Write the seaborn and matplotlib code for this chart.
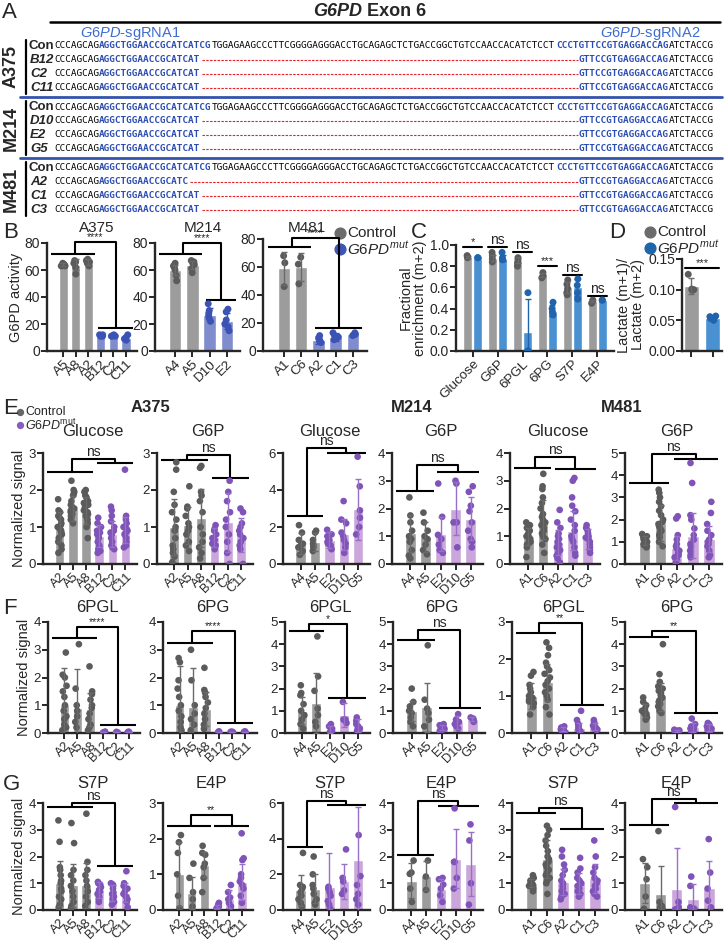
import numpy as np
import pandas as pd
import seaborn as sns
import matplotlib.pyplot as plt

# ---------------- data ----------------
# panel A: sequences
seq_con = ["CCCAGCAG", "AGGCTGGAACCGCATCATCG",
           "TGGAGAAGCCCTTCGGGGAGGGACCTGCAGAGCTCTGACCGGCTGTCCAACCACATCTCCT",
           "CCCTGTTCCGTGAGGACCAG", "ATCTACCG"]
cell_lines = ["A375", "M214", "M481"]
mut_clones = [["B12", "C2", "C11"], ["D10", "E2", "G5"], ["A2", "C1", "C3"]]
mut_guide1 = [["AGGCTGGAACCGCATCAT"] * 3, ["AGGCTGGAACCGCATCAT"] * 3,
              ["AGGCTGGAACCGCATC", "AGGCTGGAACCGCATCAT", "AGGCTGGAACCGCATCAT"]]
mut_guide2 = "GTTCCGTGAGGACCAG"

# panel B: G6PD activity
b_a375_clones = ["A5", "A8", "A2", "B12", "C2", "C11"]
b_a375_means = [64, 64, 66, 11, 11, 10]
b_a375_sds = [1, 4, 2, 1, 0.5, 2]
b_a375_pts = [[63, 64, 65, 64, 63], [57, 62, 65, 67, 66], [63, 66, 68, 67, 65],
              [11, 12, 11, 12], [11, 12, 11, 11], [8, 12, 9, 10]]
b_m214_clones = ["A4", "A5", "D10", "E2"]
b_m214_means = [60, 64, 27, 22]
b_m214_sds = [4, 3, 5, 6]
b_m214_pts = [[52, 56, 60, 63, 65, 62], [58, 61, 64, 66, 67, 65],
              [35, 30, 26, 22, 28, 24], [31, 29, 15, 20, 18, 23]]
b_m481_clones = ["A1", "C6", "A2", "C1", "C3"]
b_m481_means = [59, 60, 8, 10, 12]
b_m481_sds = [12, 10, 3, 3, 1]
b_m481_pts = [[68, 63, 46], [67, 62, 48], [11, 9, 8, 6, 7], [13, 11, 9, 8, 10], [12, 13, 11, 12]]

# panel C: fractional enrichment
c_metab = ["Glucose", "G6P", "6PGL", "6PG", "S7P", "E4P"]
c_ctrl_means = [0.89, 0.88, 0.86, 0.72, 0.60, 0.47]
c_mut_means = [0.88, 0.88, 0.18, 0.38, 0.60, 0.48]
c_ctrl_sds = [0.01, 0.03, 0.03, 0.02, 0.05, 0.01]
c_mut_sds = [0.005, 0.03, 0.31, 0.05, 0.08, 0.005]
c_ctrl_pts = [[0.90, 0.89, 0.88], [0.93, 0.90, 0.87, 0.84], [0.88, 0.86, 0.83, 0.80],
              [0.74, 0.71, 0.69], [0.67, 0.63, 0.59, 0.55, 0.53], [0.48, 0.47, 0.45]]
c_mut_pts = [[0.88, 0.88], [0.93, 0.88, 0.86], [0.55, 0.0, 0.0],
             [0.46, 0.40, 0.37, 0.34], [0.68, 0.62, 0.55, 0.49], [0.48, 0.48]]
c_sig = ["*", "ns", "ns", "***", "ns", "ns"]
c_sig_y = [0.98, 0.98, 0.93, 0.80, 0.72, 0.52]

# panel D: lactate ratio
d_groups = ["Control", "G6PDmut"]
d_means = [0.106, 0.054]
d_sds = [0.013, 0.003]
d_pts = [[0.125, 0.101, 0.099, 0.100], [0.057, 0.056, 0.053, 0.050]]

# panels E-G: normalized signal
a375_clones = ["A2", "A5", "A8", "B12", "C2", "C11"]
m214_clones = ["A4", "A5", "E2", "D10", "G5"]
m481_clones = ["A1", "C6", "A2", "C1", "C3"]

e_glc_a375_means = [1.0, 1.5, 1.45, 0.75, 0.82, 0.92]
e_glc_a375_sds = [0.4, 0.35, 0.37, 0.3, 0.35, 0.35]
e_glc_a375_pts = [[1.75, 1.45, 1.4, 1.3, 1.2, 1.1, 1.0, 0.95, 0.9, 0.8, 0.7, 0.6, 0.5, 0.4, 0.3, 1.25, 1.05, 0.85],
                  [2.25, 2.0, 1.95, 1.85, 1.7, 1.6, 1.55, 1.5, 1.45, 1.4, 1.35, 1.3, 1.25, 1.2, 1.1, 1.9],
                  [2.0, 1.95, 1.85, 1.8, 1.7, 1.6, 1.5, 1.45, 1.4, 1.35, 1.3, 1.2, 1.1, 1.0, 0.7, 1.65, 1.55],
                  [1.25, 1.1, 1.0, 0.9, 0.85, 0.8, 0.75, 0.7, 0.6, 0.5, 0.45, 0.4, 0.35, 0.3],
                  [1.55, 1.45, 1.3, 1.15, 1.0, 0.9, 0.85, 0.8, 0.7, 0.6, 0.5, 0.45, 0.4],
                  [2.55, 1.3, 1.2, 1.1, 1.0, 0.95, 0.9, 0.85, 0.8, 0.7, 0.6, 0.5, 0.45]]
e_g6p_a375_means = [1.0, 1.05, 1.25, 0.72, 1.13, 0.78]
e_g6p_a375_sds = [0.75, 0.5, 0.78, 0.25, 0.8, 0.45]
e_g6p_a375_pts = [[2.75, 2.55, 1.95, 1.6, 1.4, 1.2, 1.0, 0.9, 0.7, 0.5, 0.4, 0.3, 0.2, 0.05],
                  [2.1, 1.55, 1.5, 1.3, 1.1, 1.0, 0.9, 0.8, 0.6, 0.5, 0.35],
                  [2.65, 2.6, 1.95, 1.85, 1.7, 1.4, 1.0, 0.8, 0.6, 0.45, 0.3, 0.15],
                  [1.05, 0.95, 0.9, 0.8, 0.7, 0.65, 0.6, 0.55, 0.5, 0.4],
                  [2.25, 1.95, 1.7, 1.4, 1.2, 1.0, 0.8, 0.6, 0.3, 0.0],
                  [1.5, 1.4, 1.1, 1.0, 0.9, 0.8, 0.7, 0.6, 0.5, 0.4, 0.0]]
e_glc_m214_means = [1.1, 1.2, 1.3, 1.6, 2.95]
e_glc_m214_sds = [0.55, 0.5, 0.45, 0.85, 1.65]
e_glc_m214_pts = [[2.1, 1.7, 1.3, 1.1, 1.0, 0.9, 0.7, 0.5], [1.8, 1.7, 1.3, 1.1, 1.0, 0.9, 0.7],
                  [1.85, 1.6, 1.5, 1.3, 1.2, 1.1, 1.0, 0.8], [3.4, 2.4, 2.2, 1.7, 1.5, 1.3, 1.1, 0.9, 0.6],
                  [5.8, 4.2, 2.9, 2.5, 2.0, 1.6]]
e_g6p_m214_means = [1.1, 0.98, 1.08, 2.0, 1.63]
e_g6p_m214_sds = [0.65, 0.55, 0.6, 0.95, 0.78]
e_g6p_m214_pts = [[2.4, 1.75, 1.5, 1.2, 1.0, 0.9, 0.8, 0.5, 0.3, 0.2], [1.85, 1.5, 1.2, 1.0, 0.9, 0.7, 0.5, 0.35],
                  [2.9, 1.7, 1.05, 0.9, 0.7, 0.5, 0.4], [3.0, 2.9, 1.5, 1.5, 0.6],
                  [2.8, 2.6, 2.1, 1.9, 1.5, 1.2, 0.9, 0.8, 0.6]]
e_glc_m481_means = [1.0, 1.6, 0.78, 1.2, 0.9]
e_glc_m481_sds = [0.3, 0.7, 0.45, 0.7, 0.35]
e_glc_m481_pts = [[1.5, 1.4, 1.3, 1.2, 1.1, 1.0, 0.95, 0.9, 0.85, 0.8, 0.7, 0.6, 0.25],
                  [3.25, 2.8, 2.7, 2.4, 2.2, 2.0, 1.8, 1.7, 1.6, 1.5, 1.4, 1.3, 1.2, 1.1, 1.0, 0.9, 0.7, 0.4],
                  [1.95, 1.5, 1.3, 1.1, 1.0, 0.9, 0.8, 0.7, 0.6, 0.5, 0.4, 0.3, 0.2, 0.05],
                  [3.1, 3.0, 2.4, 2.1, 1.9, 1.6, 1.4, 1.2, 1.0, 0.9, 0.8, 0.6, 0.4, 0.3],
                  [1.4, 1.3, 1.2, 1.1, 1.0, 0.95, 0.9, 0.8, 0.7, 0.6, 0.5, 0.4]]
e_g6p_m481_means = [1.05, 1.85, 0.72, 1.28, 1.12]
e_g6p_m481_sds = [0.2, 0.8, 0.55, 1.0, 0.58]
e_g6p_m481_pts = [[1.35, 1.25, 1.2, 1.1, 1.05, 1.0, 0.95, 0.9, 0.85, 0.8, 0.75],
                  [3.35, 3.2, 3.0, 2.8, 2.6, 2.4, 2.2, 2.0, 1.9, 1.8, 1.7, 1.6, 1.5, 1.4, 1.3, 1.2, 1.0, 0.8],
                  [2.15, 2.05, 1.3, 1.1, 0.9, 0.8, 0.7, 0.6, 0.5, 0.4, 0.3, 0.2, 0.05],
                  [4.55, 3.65, 2.2, 2.0, 1.6, 1.3, 1.1, 0.9, 0.8, 0.6, 0.4, 0.3],
                  [2.8, 2.3, 1.8, 1.5, 1.3, 1.1, 1.0, 0.9, 0.8, 0.6, 0.4, 0.3]]

f_6pgl_a375_means = [1.0, 0.9, 0.85, 0.03, 0.03, 0.03]
f_6pgl_a375_sds = [1.35, 1.4, 0.6, 0.01, 0.01, 0.01]
f_6pgl_a375_pts = [[2.9, 2.1, 2.0, 1.7, 1.5, 1.3, 1.0, 0.8, 0.6, 0.5, 0.3, 0.2, 0.1],
                   [3.2, 1.6, 1.0, 0.8, 0.6, 0.4, 0.2],
                   [2.4, 1.5, 1.4, 1.2, 1.0, 0.9, 0.7, 0.5, 0.3, 0.2, 0.1],
                   [0.05, 0.03, 0.02], [0.04, 0.03, 0.02], [0.05, 0.03, 0.02]]
f_6pg_a375_means = [1.0, 0.95, 0.87, 0.03, 0.03, 0.03]
f_6pg_a375_sds = [1.4, 1.4, 0.6, 0.01, 0.01, 0.01]
f_6pg_a375_pts = [[2.7, 2.55, 1.9, 1.6, 1.3, 1.0, 0.8, 0.6, 0.4, 0.2, 0.1],
                  [3.0, 1.9, 1.0, 0.7, 0.5, 0.3, 0.1],
                  [2.35, 1.55, 1.45, 1.3, 1.1, 0.9, 0.7, 0.5, 0.3, 0.15],
                  [0.06, 0.04, 0.03], [0.05, 0.04, 0.03], [0.06, 0.04, 0.03]]
f_6pgl_m214_means = [1.0, 1.35, 0.15, 0.8, 0.35]
f_6pgl_m214_sds = [0.6, 1.35, 0.15, 0.55, 0.3]
f_6pgl_m214_pts = [[2.15, 1.8, 1.7, 1.3, 1.0, 0.8, 0.6, 0.4, 0.2], [4.35, 2.55, 1.9, 1.1, 0.8, 0.5, 0.3],
                   [0.4, 0.3, 0.2, 0.15, 0.1, 0.05, 0.0], [1.4, 0.6, 0.6, 0.45],
                   [0.7, 0.55, 0.4, 0.3, 0.2, 0.1, 0.05]]
f_6pg_m214_means = [1.0, 1.15, 0.25, 0.48, 0.62]
f_6pg_m214_sds = [0.45, 1.12, 0.1, 0.3, 0.1]
f_6pg_m214_pts = [[2.0, 1.4, 1.2, 1.0, 0.9, 0.7, 0.5, 0.3], [3.95, 1.5, 1.1, 0.9, 0.6, 0.3],
                  [0.4, 0.35, 0.3, 0.25, 0.2, 0.15, 0.1], [0.85, 0.6, 0.5, 0.4, 0.3, 0.2],
                  [0.7, 0.65, 0.6, 0.5]]
f_6pgl_m481_means = [1.0, 1.37, 0.1, 0.13, 0.17]
f_6pgl_m481_sds = [0.35, 0.5, 0.05, 0.15, 0.1]
f_6pgl_m481_pts = [[1.65, 1.55, 1.3, 1.2, 1.1, 1.0, 0.95, 0.9, 0.85, 0.8, 0.7, 0.5],
                   [2.45, 2.3, 2.1, 1.9, 1.8, 1.7, 1.6, 1.5, 1.4, 1.3, 1.2, 1.1, 1.0, 0.9, 0.7, 0.5],
                   [0.18, 0.15, 0.12, 0.1, 0.08, 0.06, 0.05, 0.03],
                   [0.6, 0.35, 0.25, 0.2, 0.15, 0.1, 0.08, 0.05],
                   [0.35, 0.3, 0.25, 0.2, 0.15, 0.12, 0.1, 0.08]]
f_6pg_m481_means = [1.0, 1.62, 0.1, 0.25, 0.25]
f_6pg_m481_sds = [0.3, 0.62, 0.05, 0.2, 0.15]
f_6pg_m481_pts = [[1.6, 1.4, 1.25, 1.1, 1.0, 0.95, 0.9, 0.85, 0.8, 0.7, 0.6],
                  [4.0, 2.65, 2.3, 2.1, 2.0, 1.9, 1.8, 1.7, 1.6, 1.5, 1.4, 1.3, 1.2, 1.0, 0.9],
                  [0.15, 0.12, 0.1, 0.08, 0.06, 0.05],
                  [0.65, 0.4, 0.3, 0.25, 0.2, 0.15, 0.1, 0.05],
                  [0.45, 0.4, 0.35, 0.3, 0.25, 0.2, 0.15, 0.1]]

g_s7p_a375_means = [1.0, 0.93, 0.92, 0.75, 0.63, 0.65]
g_s7p_a375_sds = [0.85, 0.8, 0.85, 0.3, 0.3, 0.35]
g_s7p_a375_pts = [[3.35, 2.55, 1.6, 1.5, 1.3, 1.1, 1.0, 0.8, 0.7, 0.5, 0.4, 0.2, 0.1],
                  [3.25, 2.5, 1.5, 1.3, 1.1, 0.9, 0.7, 0.5, 0.3, 0.15, 0.05],
                  [3.6, 1.8, 1.5, 1.3, 1.1, 0.9, 0.7, 0.5, 0.3, 0.15],
                  [1.05, 1.0, 0.95, 0.85, 0.75, 0.7, 0.6, 0.5, 0.4, 0.3],
                  [1.0, 0.95, 0.9, 0.8, 0.65, 0.6, 0.5, 0.4, 0.3, 0.2],
                  [1.45, 1.0, 0.9, 0.8, 0.7, 0.6, 0.5, 0.4, 0.3, 0.1]]
g_e4p_a375_means = [1.0, 0.48, 1.27, 0.1, 0.32, 0.78]
g_e4p_a375_sds = [0.9, 0.45, 0.35, 0.05, 0.25, 0.5]
g_e4p_a375_pts = [[2.1, 1.9, 1.6, 1.0, 0.4, 0.05], [1.3, 0.9, 0.5, 0.3, 0.1],
                  [1.8, 1.6, 1.55, 1.3, 1.2, 0.9, 0.5], [0.2, 0.15, 0.1, 0.08, 0.05],
                  [0.7, 0.5, 0.35, 0.3, 0.2, 0.1], [2.15, 1.45, 1.4, 1.0, 0.9, 0.8, 0.7, 0.6, 0.4, 0.2]]
g_s7p_m214_means = [1.1, 1.2, 1.3, 1.6, 2.8]
g_s7p_m214_sds = [0.85, 0.8, 1.9, 1.0, 3.0]
g_s7p_m214_pts = [[3.2, 1.4, 1.3, 1.2, 1.0, 0.8, 0.6, 0.4, 0.2], [3.0, 2.0, 1.4, 1.2, 0.9, 0.6, 0.4, 0.3],
                  [1.3, 1.2, 1.0, 0.8, 0.5, 0.3, 0.1], [3.4, 1.8, 1.6, 1.1, 0.9],
                  [4.2, 1.9, 1.4, 0.9, 0.6, 0.3]]
g_e4p_m214_means = [1.1, 1.28, 0.8, 1.92, 1.73]
g_e4p_m214_sds = [0.65, 0.55, 0.35, 1.1, 1.2]
g_e4p_m214_pts = [[1.85, 1.4, 1.35, 0.8, 0.3], [1.85, 1.25, 0.75], [1.2, 1.15, 0.95, 0.8, 0.55, 0.3],
                  [3.8, 1.8, 1.8, 1.2, 0.8], [3.2, 2.6, 1.0, 0.2]]
g_s7p_m481_means = [1.0, 1.9, 1.05, 1.0, 1.18]
g_s7p_m481_sds = [0.15, 0.7, 0.5, 0.4, 0.55]
g_s7p_m481_pts = [[1.3, 1.2, 1.1, 1.05, 1.0, 0.95, 0.9, 0.85, 0.8, 0.7],
                  [3.15, 3.0, 2.8, 2.6, 2.4, 2.2, 2.0, 1.9, 1.8, 1.7, 1.6, 1.5, 1.4, 1.3, 1.2, 1.1, 1.0, 0.6],
                  [2.25, 2.0, 1.7, 1.5, 1.3, 1.1, 1.0, 0.9, 0.8, 0.7, 0.6, 0.5, 0.4],
                  [1.95, 1.55, 1.4, 1.2, 1.1, 1.0, 0.9, 0.8, 0.7, 0.6, 0.5],
                  [2.6, 2.0, 1.6, 1.4, 1.2, 1.1, 1.0, 0.9, 0.8, 0.7, 0.6, 0.5]]
g_e4p_m481_means = [1.0, 0.6, 0.8, 0.42, 0.82]
g_e4p_m481_sds = [0.75, 1.05, 1.5, 0.55, 1.0]
g_e4p_m481_pts = [[1.9, 1.6, 1.15, 0.5, 0.05], [2.95, 0.3, 0.15, 0.1, 0.05], [3.85, 0.3, 0.1, 0.05, 0.02],
                  [1.25, 0.9, 0.1, 0.05], [2.65, 1.4, 0.8, 0.35, 0.1]]

# ---------------- style ----------------
W, H = 725, 942
np.random.seed(7)
sns.set_style("ticks")
plt.rcParams['font.family'] = ['Liberation Sans', 'DejaVu Sans']
plt.rcParams['mathtext.fontset'] = 'custom'
plt.rcParams['mathtext.it'] = 'Liberation Sans:italic'
plt.rcParams['mathtext.rm'] = 'Liberation Sans'
plt.rcParams['mathtext.bf'] = 'Liberation Sans:bold'

GREY_BAR, GREY_PT, GREY_ERR = '#9c9c9c', '#5b5b5b', '#6a6a6a'
PURP_BAR, PURP_PT, PURP_ERR = '#cba6da', '#7f53b8', '#9870c8'
BBLUE_BAR, BBLUE_PT = '#7f8dcd', '#3b53b5'
CBLUE_BAR, CBLUE_PT = '#4a91d2', '#1f64ad'
SEQ_BLUE = '#2b4cb3'

fig = plt.figure(figsize=(W / 100, H / 100), dpi=100)
ov = fig.add_axes([0, 0, 1, 1])
ov.set_xlim(0, W)
ov.set_ylim(H, 0)
ov.axis('off')


def px_axes(x0, y0, x1, y1):
    return fig.add_axes([x0 / W, 1 - y1 / H, (x1 - x0) / W, (y1 - y0) / H])


# ---------------- panel A ----------------
ov.text(2, 12, "A", fontsize=16, va='center')
ov.text(362, 12, "G6PD", fontsize=13, fontweight='bold', fontstyle='italic', ha='right', va='center')
ov.text(362, 12, " Exon 6", fontsize=13, fontweight='bold', ha='left', va='center')
ov.plot([50, 720], [22, 22], color='black', lw=1.8)
ov.text(130, 33, r"$\it{G6PD}$-sgRNA1", color='#3d6ccc', fontsize=10.5, ha='center', va='center')
ov.text(650, 33, r"$\it{G6PD}$-sgRNA2", color='#3d6ccc', fontsize=10.5, ha='center', va='center')

seq_fs = 6.75
cw = 0.6021 * seq_fs * 100 / 72
sx = 54
n_total = sum(len(s) for s in seq_con)


def seq_text(x, y, s, color, bold):
    ov.text(x, y, s, family='DejaVu Sans Mono', fontsize=seq_fs, color=color,
            fontweight='bold' if bold else 'normal', ha='left', va='center')


block_y = [46, 107, 168]
for b, cl in enumerate(cell_lines):
    y0 = block_y[b]
    # control row
    i = 0
    for k, s in enumerate(seq_con):
        seq_text(sx + i * cw, y0, s, SEQ_BLUE if k in (1, 3) else 'black', k in (1, 3))
        i += len(s)
    ov.text(29, y0, "Con", fontsize=9.5, fontweight='bold', va='center', ha='left')
    for r, clone in enumerate(mut_clones[b]):
        y = y0 + 13.9 * (r + 1)
        g1 = mut_guide1[b][r]
        seq_text(sx, y, seq_con[0], 'black', False)
        seq_text(sx + 8 * cw, y, g1, SEQ_BLUE, True)
        start = 8 + len(g1)
        stop = n_total - len(seq_con[4]) - len(mut_guide2)
        ov.plot([sx + start * cw + 1, sx + stop * cw - 1], [y, y], color='#e8202a', lw=0.8, ls=(0, (2.2, 1.2)))
        seq_text(sx + stop * cw, y, mut_guide2, SEQ_BLUE, True)
        seq_text(sx + (stop + len(mut_guide2)) * cw, y, seq_con[4], 'black', False)
        ov.text(30, y, clone, fontsize=9.5, fontweight='bold', fontstyle='italic', va='center', ha='left')
    ov.plot([26, 26], [y0 - 6, y0 + 3 * 13.9 + 6], color='black', lw=1.6)
    ov.text(11, y0 + 21, cl, fontsize=13, fontweight='bold', rotation=90, ha='center', va='center')
for yl in (97, 158):
    ov.plot([20, 722], [yl, yl], color='#3453ad', lw=2)


# ---------------- helpers ----------------
def bar_panel(ax, clones, means, sds, pts, n_ctrl, bar_cols, pt_cols, err_cols, size=4.8):
    pal_bar = {c: bar_cols[0] if i < n_ctrl else bar_cols[1] for i, c in enumerate(clones)}
    pal_pt = {c: pt_cols[0] if i < n_ctrl else pt_cols[1] for i, c in enumerate(clones)}
    dfm = pd.DataFrame({"clone": clones, "mean": means})
    sns.barplot(data=dfm, x="clone", y="mean", hue="clone", order=clones, hue_order=clones,
                palette=pal_bar, saturation=1, width=0.72, errorbar=None, legend=False, ax=ax)
    rows = [(c, v) for c, vals in zip(clones, pts) for v in vals]
    dfp = pd.DataFrame(rows, columns=["clone", "value"])
    sns.stripplot(data=dfp, x="clone", y="value", hue="clone", order=clones, hue_order=clones,
                  palette=pal_pt, jitter=0.17, size=size, linewidth=0, legend=False, ax=ax, zorder=3)
    for i in range(len(clones)):
        ec = err_cols[0] if i < n_ctrl else err_cols[1]
        ax.errorbar(i, means[i], yerr=sds[i], fmt='none', ecolor=ec, elinewidth=1,
                    capsize=2.5, capthick=1, zorder=4)


def style(ax, ymax, yticks, labels, fs=9.5):
    ax.set_ylim(0, ymax)
    ax.set_yticks(yticks)
    ax.set_xlabel('')
    ax.set_ylabel('')
    sns.despine(ax=ax)
    for s in ('left', 'bottom'):
        ax.spines[s].set_linewidth(1.7)
    ax.tick_params(width=1.4, length=4, labelsize=fs, pad=1)
    ax.set_xticks(range(len(labels)))
    ax.set_xticklabels(labels, rotation=45, ha='right', rotation_mode='anchor', fontsize=fs - 0.3)
    ax.set_facecolor('none')


def bracket(ax, n_ctrl, n, yc, ym, ytop, label):
    c0, c1 = -0.95, n_ctrl - 0.45
    m0, m1 = n_ctrl - 0.2, n - 0.45
    xc, xm = (c0 + c1) / 2 + 0.15, (m0 + m1) / 2
    kw = dict(color='black', lw=1.5, clip_on=False, solid_capstyle='butt')
    ax.plot([c0, c1], [yc, yc], **kw)
    ax.plot([m0, m1], [ym, ym], **kw)
    ax.plot([xc, xc, xm, xm], [yc, ytop, ytop, ym], **kw)
    fs = 10 if label == 'ns' else 7.5
    ax.text((xc + xm) / 2, ytop, label, ha='center', va='bottom', fontsize=fs, clip_on=False)


def center_x(ax):
    bb = ax.get_position()
    return (bb.x0 + bb.x1) / 2 * W


# ---------------- panel B ----------------
ov.text(3, 233, "B", fontsize=16, va='center')
b_specs = [((47, 243, 137, 351), b_a375_clones, b_a375_means, b_a375_sds, b_a375_pts, 3, (72, 17, 81), "A375", 5),
           ((155, 243, 240, 351), b_m214_clones, b_m214_means, b_m214_sds, b_m214_pts, 2, (72, 38, 80), "M214", 5),
           ((263, 239, 367, 351), b_m481_clones, b_m481_means, b_m481_sds, b_m481_pts, 2, (74, 16.5, 80.5), "M481", -8)]
for k, (rect, cl, mn, sd, pt, nc, br, title, dx) in enumerate(b_specs):
    ax = px_axes(*rect)
    bar_panel(ax, cl, mn, sd, pt, nc, (GREY_BAR, BBLUE_BAR), (GREY_PT, BBLUE_PT), (GREY_ERR, BBLUE_PT), size=5)
    style(ax, 80, [0, 20, 40, 60, 80], cl, fs=10)
    bracket(ax, nc, len(cl), br[0], br[1], br[2], "****")
    ov.text(center_x(ax) + dx, 228, title, fontsize=11, ha='center', va='center')
    if k == 0:
        ax.set_ylabel("G6PD activity", fontsize=10.5, labelpad=1)

ov.scatter([340], [233], s=60, color='#6b6b6b')
ov.text(347, 233, "Control", fontsize=11, va='center')
ov.scatter([340], [249], s=60, color='#3d55b5')
ov.text(347, 249, r"$\it{G6PD}^{mut}$", fontsize=11, va='center')

# ---------------- panel C ----------------
ov.text(411, 233, "C", fontsize=16, va='center')
axc = px_axes(456, 245, 614, 351)
dfc = pd.DataFrame({"metab": c_metab * 2,
                    "group": ["Control"] * 6 + ["G6PDmut"] * 6,
                    "mean": c_ctrl_means + c_mut_means})
sns.barplot(data=dfc, x="metab", y="mean", hue="group", palette=[GREY_BAR, CBLUE_BAR], saturation=1,
            width=0.8, gap=0.15, errorbar=None, legend=False, ax=axc)
rows = [(m, "Control", v) for m, vals in zip(c_metab, c_ctrl_pts) for v in vals] + \
       [(m, "G6PDmut", v) for m, vals in zip(c_metab, c_mut_pts) for v in vals]
dfcp = pd.DataFrame(rows, columns=["metab", "group", "value"])
sns.stripplot(data=dfcp, x="metab", y="value", hue="group", dodge=True, palette=[GREY_PT, CBLUE_PT],
              jitter=0.06, size=5, linewidth=0, legend=False, ax=axc, zorder=3)
for i in range(len(c_metab)):
    axc.errorbar(i - 0.2, c_ctrl_means[i], yerr=c_ctrl_sds[i], fmt='none', ecolor=GREY_ERR, elinewidth=1, capsize=2.5, zorder=4)
    axc.errorbar(i + 0.2, c_mut_means[i], yerr=c_mut_sds[i], fmt='none', ecolor=CBLUE_PT, elinewidth=1, capsize=2.5, zorder=4)
    axc.plot([i - 0.38, i + 0.38], [c_sig_y[i], c_sig_y[i]], color='black', lw=1.5, clip_on=False)
    axc.text(i, c_sig_y[i], c_sig[i], ha='center', va='bottom', fontsize=10 if c_sig[i] == 'ns' else 8)
style(axc, 1.0, [0, 0.2, 0.4, 0.6, 0.8, 1.0], c_metab, fs=10)
axc.set_yticklabels(["0.0", "0.2", "0.4", "0.6", "0.8", "1.0"])
axc.set_ylabel("Fractional\nenrichment (m+2)", fontsize=10.5, labelpad=2, linespacing=1.0)

# ---------------- panel D ----------------
ov.text(609, 233, "D", fontsize=16, va='center')
axd = px_axes(682, 259, 722, 351)
bar_panel(axd, d_groups, d_means, d_sds, d_pts, 1, (GREY_BAR, CBLUE_BAR), (GREY_PT, CBLUE_PT), (GREY_ERR, CBLUE_PT), size=5)
style(axd, 0.15, [0, 0.05, 0.10, 0.15], ["", ""], fs=10)
axd.set_yticklabels(["0.00", "0.05", "0.10", "0.15"])
axd.plot([-0.3, 1.3], [0.135, 0.135], color='black', lw=1.5, clip_on=False)
axd.text(0.5, 0.135, "***", ha='center', va='bottom', fontsize=8)
axd.set_ylabel("Lactate (m+1)/\nLactate (m+2)", fontsize=10.5, labelpad=2, linespacing=1.0)
ov.scatter([650], [232], s=60, color='#6b6b6b')
ov.text(657, 232, "Control", fontsize=11, va='center')
ov.scatter([650], [248], s=60, color='#1f65aa')
ov.text(657, 248, r"$\it{G6PD}^{mut}$", fontsize=11, va='center')

# ---------------- panels E-G ----------------
col_x = {"E": [(43, 137), (157, 253), (283, 370), (392, 483), (510, 600), (625, 722)],
         "F": [(48, 140), (163, 257), (285, 370), (393, 485), (512, 608), (625, 722)],
         "G": [(43, 137), (163, 253), (283, 370), (393, 483), (512, 608), (625, 722)]}
row_y = {"E": (453, 564), "F": (622, 733), "G": (803, 910)}
title_y = {"E": 432, "F": 607, "G": 784}
clone_sets = [a375_clones, a375_clones, m214_clones, m214_clones, m481_clones, m481_clones]
n_ctrls = [3, 3, 2, 2, 2, 2]

rows_spec = {
    "E": [("Glucose", e_glc_a375_means, e_glc_a375_sds, e_glc_a375_pts, 3, [0, 1, 2, 3], (2.49, 2.74, 2.83, "ns")),
          ("G6P", e_g6p_a375_means, e_g6p_a375_sds, e_g6p_a375_pts, 3, [0, 1, 2, 3], (2.8, 2.33, 2.95, "ns")),
          ("Glucose", e_glc_m214_means, e_glc_m214_sds, e_glc_m214_pts, 6, [0, 2, 4, 6], (2.6, 5.98, 6.25, "ns")),
          ("G6P", e_g6p_m214_means, e_g6p_m214_sds, e_g6p_m214_pts, 4, [0, 1, 2, 3, 4], (2.64, 3.3, 3.57, "ns")),
          ("Glucose", e_glc_m481_means, e_glc_m481_sds, e_glc_m481_pts, 4, [0, 1, 2, 3, 4], (3.45, 3.41, 3.85, "ns")),
          ("G6P", e_g6p_m481_means, e_g6p_m481_sds, e_g6p_m481_pts, 5, [0, 1, 2, 3, 4, 5], (3.63, 4.73, 4.95, "ns"))],
    "F": [("6PGL", f_6pgl_a375_means, f_6pgl_a375_sds, f_6pgl_a375_pts, 4, [0, 1, 2, 3, 4], (3.41, 0.29, 3.81, "****")),
          ("6PG", f_6pg_a375_means, f_6pg_a375_sds, f_6pg_a375_pts, 4, [0, 1, 2, 3, 4], (3.23, 0.37, 3.69, "****")),
          ("6PGL", f_6pgl_m214_means, f_6pgl_m214_sds, f_6pgl_m214_pts, 5, [0, 1, 2, 3, 4, 5], (4.61, 1.56, 4.91, "*")),
          ("6PG", f_6pg_m214_means, f_6pg_m214_sds, f_6pg_m214_pts, 5, [0, 1, 2, 3, 4, 5], (4.19, 1.14, 4.64, "ns")),
          ("6PGL", f_6pgl_m481_means, f_6pgl_m481_sds, f_6pgl_m481_pts, 3, [0, 1, 2, 3], (2.69, 0.76, 2.98, "**")),
          ("6PG", f_6pg_m481_means, f_6pg_m481_sds, f_6pg_m481_pts, 5, [0, 1, 2, 3, 4, 5], (4.31, 0.89, 4.61, "**"))],
    "G": [("S7P", g_s7p_a375_means, g_s7p_a375_sds, g_s7p_a375_pts, 4, [0, 1, 2, 3, 4], (3.85, 1.66, 4.0, "ns")),
          ("E4P", g_e4p_a375_means, g_e4p_a375_sds, g_e4p_a375_pts, 3, [0, 1, 2, 3], (2.35, 2.35, 2.67, "**")),
          ("S7P", g_s7p_m214_means, g_s7p_m214_sds, g_s7p_m214_pts, 6, [0, 2, 4, 6], (3.56, 5.89, 6.09, "ns")),
          ("E4P", g_e4p_m214_means, g_e4p_m214_sds, g_e4p_m214_pts, 4, [0, 1, 2, 3, 4], (2.06, 3.9, 4.06, "ns")),
          ("S7P", g_s7p_m481_means, g_s7p_m481_sds, g_s7p_m481_pts, 4, [0, 1, 2, 3, 4], (3.62, 3.01, 3.8, "ns")),
          ("E4P", g_e4p_m481_means, g_e4p_m481_sds, g_e4p_m481_pts, 4, [0, 1, 2, 3, 4], (3.19, 3.99, 4.15, "ns"))],
}

for row in ("E", "F", "G"):
    y0, y1 = row_y[row]
    for j, (title, mn, sd, pt, ymax, yt, br) in enumerate(rows_spec[row]):
        x0, x1 = col_x[row][j]
        ax = px_axes(x0, y0, x1, y1)
        cl = clone_sets[j]
        bar_panel(ax, cl, mn, sd, pt, n_ctrls[j], (GREY_BAR, PURP_BAR), (GREY_PT, PURP_PT), (GREY_ERR, PURP_ERR))
        style(ax, ymax, yt, cl)
        bracket(ax, n_ctrls[j], len(cl), *br)
        ov.text(center_x(ax) + 3, title_y[row], title, fontsize=12, ha='center', va='center')
        if j == 0:
            ax.set_ylabel("Normalized signal", fontsize=10.5, labelpad=2)

ov.text(3, 408, "E", fontsize=16, va='center')
ov.text(3, 609, "F", fontsize=16, va='center')
ov.text(3, 785, "G", fontsize=16, va='center')
for name, xc in (("A375", 150), ("M214", 412), ("M481", 622)):
    ov.text(xc, 408, name, fontsize=12, fontweight='bold', ha='center', va='center')
ov.scatter([20], [412], s=18, color='#666666')
ov.text(25, 412, "Control", fontsize=9, va='center')
ov.scatter([20], [425], s=18, color='#8a5cbf')
ov.text(25, 425, r"$\it{G6PD}^{\rm{mut}}$", fontsize=9, va='center')

fig.savefig("out.png", dpi=100)
